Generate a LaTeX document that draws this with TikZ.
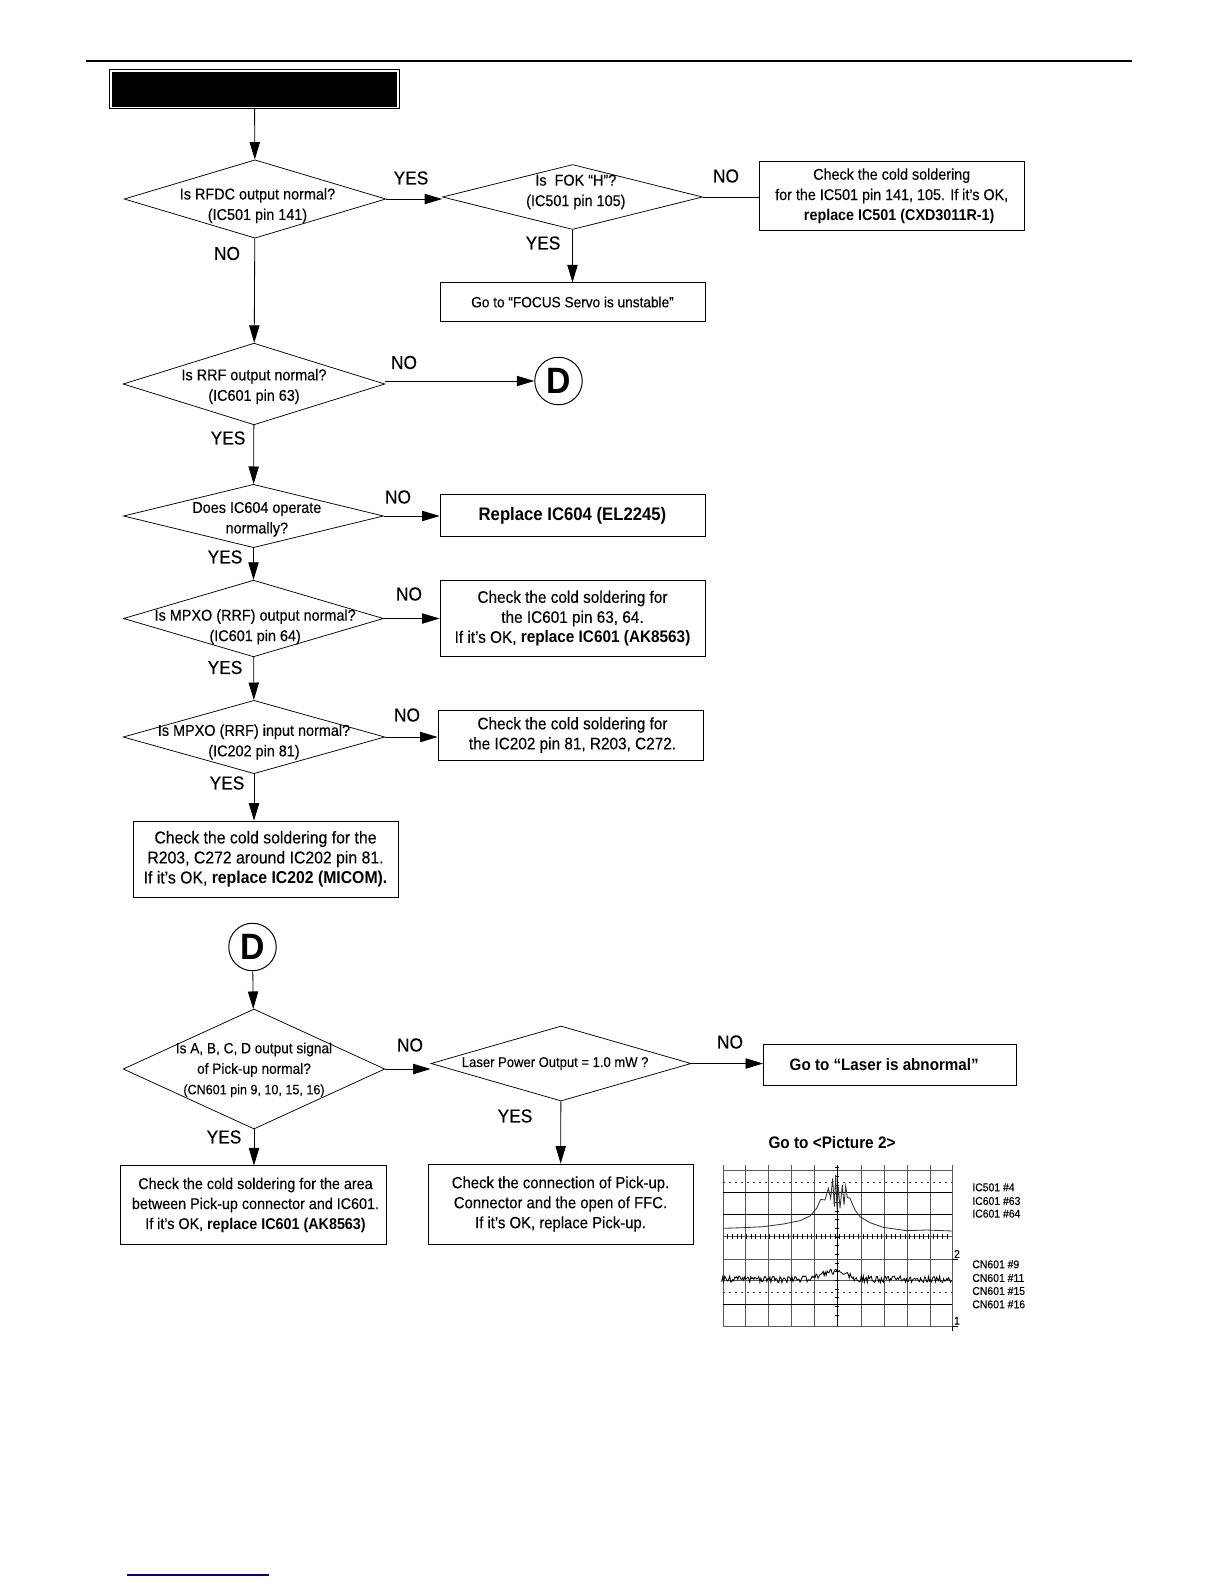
\documentclass[tikz,border=0pt]{standalone}
\usepackage{fontspec}
\setmainfont{Liberation Sans}[UprightFeatures={FakeBold=0.22,FakeStretch=0.92},BoldFeatures={FakeStretch=0.92}]
\usetikzlibrary{arrows.meta,shapes.geometric}
\newcommand{\flowfont}{\fontsize{9.4}{12.3}\selectfont}
\tikzset{
  flow/.style={line width=0.5pt, -{Triangle[length=10.5pt,width=6.2pt]}},
  decision/.style={diamond, draw, line width=0.45pt, inner sep=0pt},
  decisiontext/.style={align=center, inner sep=0pt, font=\flowfont},
  actionbox/.style={draw, line width=0.5pt, inner sep=0pt, align=center, font=\flowfont},
  answer/.style={inner sep=0pt, font=\fontsize{11.3}{12}\selectfont},
  offpage/.style={circle, draw, line width=0.6pt, inner sep=0pt, minimum size=28.5pt,
    font=\fontsize{22}{22}\bfseries},
  tracename/.style={anchor=west, inner sep=0pt, font=\fontsize{6.8}{7}\selectfont}
}
\begin{document}
\begin{tikzpicture}[x=0.6pt, y=-0.6pt]
  \useasboundingbox (0,0) rectangle (1224,1584);
  \fill[white] (0,0) rectangle (1224,1584);
  \draw[line width=1.4pt] (86,60.7) -- (1132,60.7);
  \draw[line width=1pt, color=blue!50!black] (127,1575) -- (269,1575);

  % upper chart
  \node[draw, fill=black, double=white, line width=0.6pt, double distance=1pt, inner sep=0pt,
        minimum width=172pt, minimum height=22pt] (title) at (254.5,89) {};
  \node[decision, minimum width=157pt, minimum height=47pt,
        label={[decisiontext,xshift=1.5pt,yshift=-4pt]center:Is RFDC output normal?\\(IC501 pin 141)}] (rfdc) at (255,199) {};
  \node[decision, minimum width=156pt, minimum height=39pt,
        label={[decisiontext,xshift=2pt,yshift=3pt]center:Is\ \ FOK ``H''?\\(IC501 pin 105)}] (fok) at (572.5,197) {};
  \node[actionbox, minimum width=159pt, minimum height=41pt, font=\fontsize{9.35}{12.2}\selectfont] (solder501) at (891.7,196)
       {Check the cold soldering\\for the IC501 pin 141, 105. If it's OK,\\\hspace*{9pt}\textbf{replace IC501 (CXD3011R-1)}};
  \node[actionbox, minimum width=159pt, minimum height=23pt, font=\fontsize{8.9}{12}\selectfont] (focus) at (572.5,302)
       {Go to ``FOCUS Servo is unstable''};
  \node[decision, minimum width=157pt, minimum height=49pt,
        label={[decisiontext,yshift=-1.5pt]center:Is RRF output normal?\\(IC601 pin 63)}] (rrf) at (254,384) {};
  \node[offpage] (dtop) at (558.5,381) {D};
  \node[decision, minimum width=156pt, minimum height=38pt,
        label={[decisiontext,xshift=2pt,yshift=-2pt]center:Does IC604 operate\\normally?}] (ic604) at (253.5,516) {};
  \node[actionbox, minimum width=159pt, minimum height=25pt, font=\fontsize{10.9}{12}\bfseries] (repl604) at (572.5,515.5)
       {Replace IC604 (EL2245)};
  \node[decision, minimum width=156pt, minimum height=46pt,
        label={[decisiontext,xshift=1pt,yshift=-5pt]center:Is MPXO (RRF) output normal?\\(IC601 pin 64)}] (mpxoout) at (253.5,618.5) {};
  \node[actionbox, minimum width=159pt, minimum height=46pt, font=\fontsize{10}{12}\selectfont] (solder601) at (572.5,618.5)
       {Check the cold soldering for\\the IC601 pin 63, 64.\\If it's OK, \textbf{replace IC601 (AK8563)}};
  \node[decision, minimum width=157pt, minimum height=44pt,
        label={[decisiontext,yshift=-3pt]center:Is MPXO (RRF) input normal?\\(IC202 pin 81)}] (mpxoin) at (254,737) {};
  \node[actionbox, minimum width=159pt, minimum height=30pt, font=\fontsize{10}{12}\selectfont] (solder202) at (570.5,735)
       {\hspace*{2.4pt}Check the cold soldering for\\\hspace*{2.4pt}the IC202 pin 81, R203, C272.};
  \node[actionbox, minimum width=159pt, minimum height=45.5pt, font=\fontsize{10.3}{12}\selectfont] (micom) at (265.5,859)
       {Check the cold soldering for the\\R203, C272 around IC202 pin 81.\\If it's OK, \textbf{replace IC202 (MICOM).}};

  % lower chart
  \node[offpage] (dbottom) at (252.5,947) {D};
  \node[decision, minimum width=157pt, minimum height=72pt,
        label={[decisiontext,yshift=-0.5pt,font=\fontsize{8.9}{12.3}\selectfont]center:Is A, B, C, D output signal\\of Pick-up normal?\\{\fontsize{8.2}{12.3}\selectfont (CN601 pin 9, 10, 15, 16)}}] (pickup) at (254,1069) {};
  \node[decision, minimum width=156pt, minimum height=45pt,
        label={[decisiontext,xshift=-3.5pt,font=\fontsize{8.5}{12}\selectfont]center:Laser Power Output = 1.0 mW ?}] (laser) at (561,1063.5) {};
  \node[actionbox, minimum width=151.5pt, minimum height=25pt, font=\fontsize{9.9}{12}\bfseries] (abnormal) at (889.7,1065)
       {Go to ``Laser is abnormal''\hspace*{6.6pt}};
  \node[actionbox, minimum width=159.5pt, minimum height=47pt, font=\fontsize{9.35}{12}\selectfont] (solderpick) at (253,1205)
       {\hspace*{3pt}Check the cold soldering for the area\\\hspace*{3pt}between Pick-up connector and IC601.\\\hspace*{3pt}If it's OK, \textbf{replace IC601 (AK8563)}};
  \node[actionbox, minimum width=159pt, minimum height=48pt, font=\fontsize{9.7}{12}\selectfont] (connector) at (560.5,1204)
       {Check the connection of Pick-up.\\Connector and the open of FFC.\\If it's OK, replace Pick-up.};

  % answers
  \node[answer] (yesrfdc) at (411,178) {YES};
  \node[answer] (nofok) at (726,176) {NO};
  \node[answer] (yesfok) at (543,243) {YES};
  \node[answer] (norfdc) at (227,253.5) {NO};
  \node[answer] (norrf) at (404,362.5) {NO};
  \node[answer] (yesrrf) at (228,438) {YES};
  \node[answer] (no604) at (398,497) {NO};
  \node[answer] (yes604) at (225,557) {YES};
  \node[answer] (noout) at (409,594) {NO};
  \node[answer] (yesout) at (225,667.5) {YES};
  \node[answer] (noin) at (407,715) {NO};
  \node[answer] (yesin) at (227,783) {YES};
  \node[answer] (nopick) at (410,1045) {NO};
  \node[answer] (nolaser) at (730,1042) {NO};
  \node[answer] (yeslaser) at (515,1116) {YES};
  \node[answer] (yespick) at (224,1137) {YES};

  % connectors
  \draw[flow] (title) -- (rfdc);
  \draw[flow] (rfdc) -- (rfdc -| fok.west);
  \draw[line width=0.5pt] (fok.east) -- (fok.east -| solder501.west);
  \draw[flow] (fok) -- (focus);
  \draw[flow] (rfdc) -- (rrf);
  \draw[flow] (rrf.east |- dtop) -- (dtop.west);
  \draw[flow] (rrf) -- (ic604);
  \draw[flow] (ic604.east) -- (ic604.east -| repl604.west);
  \draw[flow] (ic604) -- (mpxoout);
  \draw[flow] (mpxoout.east) -- (mpxoout.east -| solder601.west);
  \draw[flow] (mpxoout) -- (mpxoin);
  \draw[flow] (mpxoin.east) -- (mpxoin.east -| solder202.west);
  \draw[flow] (mpxoin.south) -- (mpxoin.south |- micom.north);
  \draw[flow] (dbottom) -- (pickup);
  \draw[flow] (pickup.east) -- (pickup.east -| laser.west);
  \draw[flow] (laser.east) -- (laser.east -| abnormal.west);
  \draw[flow] (pickup.south) -- (pickup.south |- solderpick.north);
  \draw[flow] (laser) -- (connector);

  % oscilloscope trace
  \node[font=\fontsize{10}{12}\bfseries, inner sep=0pt] (picture) at (832,1143) {Go to <Picture 2>};
  \begin{scope}[shift={(700,1110)}, x=0.2pt, y=-0.2pt]
    \foreach \gx in {70,136,205,274,343,484,553,622,691,757}
      \draw[line width=0.5pt, black!65] (\gx,165) -- (\gx,648);
    \foreach \gy in {182,380,447,511,648}
      \draw[line width=0.5pt, black!65] (70,\gy) -- (757,\gy);
    \foreach \gy in {247,313,583}
      \draw[line width=0.7pt] (70,\gy) -- (757,\gy);
    \foreach \gy in {217,547}
      \draw[line width=0.5pt, black!80, dash pattern=on 1.2pt off 2.4pt] (70,\gy) -- (757,\gy);
    \draw[line width=0.5pt] (411,165) -- (411,648);
    \foreach \ty in {173,199,...,640}
      \draw[line width=0.5pt] (404,\ty) -- (418,\ty);
    \foreach \tx in {83,97,...,750}
      \draw[line width=0.5pt] (\tx,373) -- (\tx,387);
    \draw[line width=0.5pt] (757,648) -- (757,662) (757,648) -- (775,648) (757,447) -- (775,447);
    \draw[line width=0.5pt, black!80] (70,355) -- (130,353) -- (190,350) -- (250,342) -- (300,332) -- (330,318)
      -- (350,295) -- (362,268) -- (375,270) -- (385,235) -- (392,265) -- (398,205) -- (403,290) -- (407,195) -- (411,297) -- (415,230)
      -- (420,295) -- (427,225) -- (432,285) -- (437,228) -- (442,262) -- (450,265) -- (465,300) -- (480,320)
      -- (510,338) -- (550,352) -- (620,362) -- (680,360) -- (757,363);
    \pgfmathsetseed{63}
    \draw[line width=0.5pt] plot[domain=65:755, samples=230]
      (\x,{508+20*(rnd-0.5)-22*exp(-((\x-400)/50)^2)});
    \node[inner sep=0pt, font=\fontsize{6.8}{7}\selectfont] (two) at (771,432) {2};
    \node[inner sep=0pt, font=\fontsize{6.8}{7}\selectfont] (one) at (771,632) {1};
    \node[tracename] (ic501four) at (816,232) {IC501 \#4};
    \node[tracename] (ic601three) at (816,273) {IC601 \#63};
    \node[tracename] (ic601four) at (816,311) {IC601 \#64};
    \node[tracename] (cnnine) at (816,463) {CN601 \#9};
    \node[tracename] (cneleven) at (816,504) {CN601 \#11};
    \node[tracename] (cnfifteen) at (816,543) {CN601 \#15};
    \node[tracename] (cnsixteen) at (816,583) {CN601 \#16};
  \end{scope}
\end{tikzpicture}
\end{document}
